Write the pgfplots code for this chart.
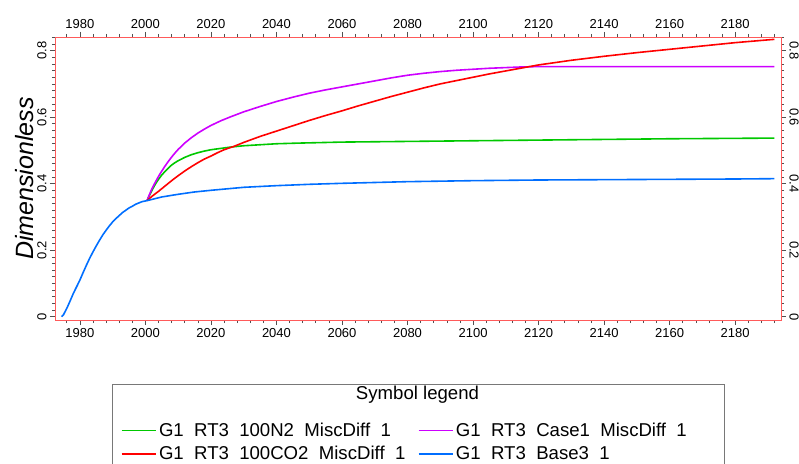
\documentclass[border=0pt]{standalone}
\usepackage{fontspec}
\setmainfont{Liberation Sans}
\usepackage{pgfplots}
\pgfplotsset{compat=1.18}
\definecolor{cgreen}{RGB}{0,200,0}
\definecolor{cmag}{RGB}{205,0,255}
\definecolor{cred}{RGB}{255,0,0}
\definecolor{cblue}{RGB}{0,110,255}
\definecolor{axred}{RGB}{255,90,90}
\definecolor{tickgray}{RGB}{80,80,80}
\definecolor{boxgray}{RGB}{120,120,120}
\begin{document}
\begin{tikzpicture}
\pgfplotsset{common/.style={
  width=726pt, height=283pt, scale only axis,
  at={(0pt,0pt)}, anchor=south west,
  xmin=1972.4, xmax=2194, ymin=-0.01, ymax=0.841,
  axis line style={draw=axred, line width=0.8pt},
  tick style={color=tickgray, line width=0.6pt},
  major tick length=5pt, minor tick length=3pt,
  tick align=outside,
  xtick={1980,2000,...,2180},
  ytick={0,0.2,0.4,0.6,0.8},
  minor xtick={1976,1980,...,2192},
  minor ytick={0,0.02,...,0.84},
  tick label style={font=\fontsize{13}{15}\selectfont},
  /pgf/number format/assume math mode=true,
  /pgf/number format/1000 sep={},
}}
\begin{axis}[common,
  xtick pos=left, ytick pos=left,
  yticklabel style={rotate=90, anchor=south},
  ylabel={Dimensionless},
  ylabel style={font=\fontsize{25}{30}\selectfont\itshape, at={(axis description cs:-0.0413,0.5)}, anchor=center},
  legend columns=2,
  legend cell align=left,
  legend style={draw=none, fill=none, at={(axis description cs:0.0905,-0.357)}, anchor=north west,
    inner sep=0pt, font=\fontsize{18.6}{21}\selectfont, row sep=4pt,
    /tikz/every even column/.append style={column sep=10pt},
    nodes={inner ysep=2pt, inner xsep=2.5pt}},
  legend image code/.code={\draw[#1] (0pt,0pt) -- (34pt,0pt);},
  every axis plot/.append style={line join=round},
]
\addplot[cgreen, line width=1.6pt, forget plot] table {
2000.5 0.349
2001 0.360
2002 0.380
2003 0.398
2004 0.413
2005 0.426
2006 0.437
2007 0.447
2008 0.456
2009 0.463
2010 0.469
2012 0.479
2014 0.487
2016 0.493
2018 0.498
2020 0.502
2023 0.506
2026 0.510
2030 0.514
2035 0.517
2040 0.520
2047 0.522
2060 0.525
2080 0.527
2100 0.529
2120 0.531
2140 0.533
2160 0.535
2192 0.537
};
\addplot[cmag, line width=1.6pt, forget plot] table {
2000.5 0.349
2001 0.362
2002 0.385
2003 0.404
2004 0.422
2005 0.438
2006 0.453
2007 0.467
2008 0.480
2009 0.492
2010 0.503
2012 0.522
2014 0.538
2016 0.552
2018 0.564
2020 0.575
2023 0.589
2026 0.601
2030 0.616
2035 0.632
2040 0.647
2045 0.660
2050 0.672
2055 0.682
2060 0.691
2065 0.700
2070 0.709
2075 0.718
2080 0.726
2085 0.732
2090 0.737
2095 0.741
2100 0.744
2105 0.747
2110 0.749
2115 0.751
2120 0.752
2192 0.752
};
\addplot[cred, line width=1.6pt, forget plot] table {
2000.5 0.349
2002 0.362
2004 0.377
2006 0.393
2008 0.409
2010 0.424
2012 0.438
2014 0.451
2016 0.463
2018 0.474
2020 0.483
2022 0.493
2024 0.502
2027 0.512
2030 0.524
2035 0.542
2040 0.558
2045 0.574
2050 0.590
2055 0.605
2060 0.619
2065 0.634
2070 0.648
2075 0.662
2080 0.675
2085 0.688
2090 0.700
2095 0.710
2100 0.720
2105 0.730
2110 0.739
2115 0.748
2120 0.757
2130 0.771
2140 0.783
2150 0.794
2160 0.804
2170 0.814
2180 0.824
2192 0.834
};
\addplot[cblue, line width=1.6pt, forget plot] table {
1974.4 0
1975 0.006
1976 0.025
1977 0.047
1978 0.070
1979 0.090
1980 0.110
1981 0.133
1982 0.155
1983 0.176
1984 0.195
1985 0.213
1986 0.230
1987 0.246
1988 0.260
1989 0.273
1990 0.285
1991 0.295
1992 0.304
1993 0.313
1994 0.320
1995 0.327
1996 0.332
1997 0.338
1998 0.342
1999 0.346
2000.5 0.349
2005 0.360
2010 0.368
2015 0.375
2020 0.380
2030 0.389
2040 0.394
2050 0.398
2060 0.401
2080 0.406
2100 0.409
2120 0.411
2140 0.412
2160 0.413
2180 0.414
2192 0.415
};
\addlegendimage{cgreen, line width=1.2pt}
\addlegendentry{G1\ \ RT3\ \ 100N2\ \ MiscDiff\ \ 1}
\addlegendimage{cmag, line width=1.2pt}
\addlegendentry{G1\ \ RT3\ \ Case1\ \ MiscDiff\ \ 1}
\addlegendimage{cred, line width=1.6pt}
\addlegendentry{G1\ \ RT3\ \ 100CO2\ \ MiscDiff\ \ 1}
\addlegendimage{cblue, line width=1.6pt}
\addlegendentry{G1\ \ RT3\ \ Base3\ \ 1}
\end{axis}
\begin{axis}[common,
  xtick pos=right, ytick pos=right,
  xticklabel pos=right, yticklabel pos=right,
  yticklabel style={rotate=-90, anchor=south},
]
\end{axis}
\draw[boxgray, line width=0.8pt] (57.7pt,-200pt) rectangle (669.3pt,-64pt);
\node[font=\fontsize{18.6}{21}\selectfont] at (362.5pt,-75pt) {Symbol legend};
\pgfresetboundingbox
\useasboundingbox (-55pt,-143pt) rectangle (744pt,320pt);
\end{tikzpicture}
\end{document}
